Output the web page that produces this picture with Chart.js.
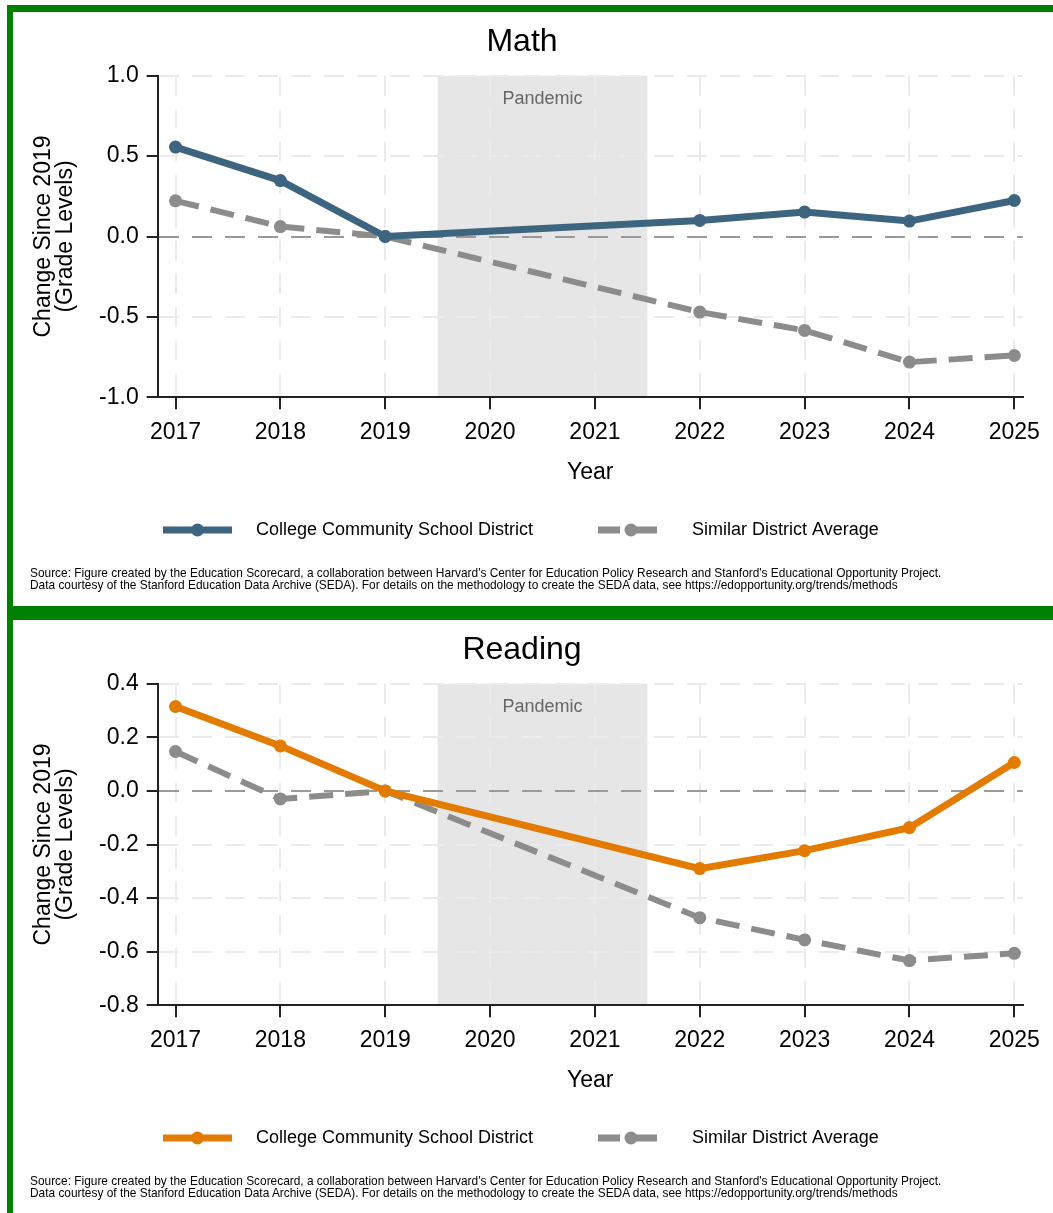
<!DOCTYPE html>
<html>
<head>
<meta charset="utf-8">
<title>Math and Reading</title>
<script src="https://cdn.jsdelivr.net/npm/chart.js@4.4.1/dist/chart.umd.min.js"></script>
<style>
  body { margin: 0; background: #fff; width: 1053px; height: 1213px; overflow: hidden; position: relative;
         font-family: "Liberation Sans", Arial, sans-serif; }
  .panel { position: absolute; left: 7px; width: 1100px; border-left: 6px solid #008000; border-top: 7px solid #008000; }
  #p1 { top: 5px; height: 594px; border-bottom: 7px solid #008000; }
  #p2 { top: 613px; height: 600px; }
  .panel canvas { position: absolute; left: 0; top: 0; }
  .src { position: absolute; left: 17px; top: 555px; font-size: 11.9px; line-height: 12px; color: #000; white-space: nowrap; }
</style>
</head>
<body>
<div class="panel" id="p1">
  <canvas id="cMath" width="1040" height="594"></canvas>
  <div class="src">Source: Figure created by the Education Scorecard, a collaboration between Harvard's Center for Education Policy Research and Stanford's Educational Opportunity Project.<br>Data courtesy of the Stanford Education Data Archive (SEDA). For details on the methodology to create the SEDA data, see https://edopportunity.org/trends/methods</div>
</div>
<div class="panel" id="p2">
  <canvas id="cRead" width="1040" height="594"></canvas>
  <div class="src">Source: Figure created by the Education Scorecard, a collaboration between Harvard's Center for Education Policy Research and Stanford's Educational Opportunity Project.<br>Data courtesy of the Stanford Education Data Archive (SEDA). For details on the methodology to create the SEDA data, see https://edopportunity.org/trends/methods</div>
</div>
<script>
// values (change since 2019, grade levels)
const years = [2017, 2018, 2019, 2022, 2023, 2024, 2025];
const xTicks = [2017, 2018, 2019, 2020, 2021, 2022, 2023, 2024, 2025];
const seriesNames = ["College Community School District", "Similar District Average"];

const mathDistrict = [0.556, 0.348, 0.0, 0.100, 0.152, 0.096, 0.224];
const mathSimilar = [0.222, 0.062, 0.0, -0.470, -0.584, -0.781, -0.740];
const mathYTicks = [-1.0, -0.5, 0.0, 0.5, 1.0];

const readDistrict = [0.315, 0.168, 0.0, -0.290, -0.223, -0.137, 0.106];
const readSimilar = [0.147, -0.030, 0.0, -0.473, -0.556, -0.633, -0.606];
const readYTicks = [-0.8, -0.6, -0.4, -0.2, 0.0, 0.2, 0.4];

const pandemic = [2019.5, 2021.5];

const GRAY = "#8c8c8c";
const FONT = '"Liberation Sans", Arial, sans-serif';
Chart.defaults.font.family = FONT;
Chart.defaults.color = "#000";

// shaded pandemic years + label, under the grid
const pandemicBand = {
  id: "pandemicBand",
  beforeDraw(chart) {
    const { ctx, chartArea: a, scales: { x } } = chart;
    const x0 = x.getPixelForValue(pandemic[0]);
    const x1 = x.getPixelForValue(pandemic[1]);
    ctx.save();
    ctx.fillStyle = "#e6e6e6";
    ctx.fillRect(x0, a.top, x1 - x0, a.bottom - a.top);
    ctx.fillStyle = "#666";
    ctx.font = "18px " + FONT;
    ctx.textAlign = "center";
    ctx.textBaseline = "middle";
    ctx.fillText("Pandemic", (x0 + x1) / 2, a.top + 23);
    ctx.restore();
  },
};

// legend key: line with a marker in the middle
const keyLegend = {
  id: "keyLegend",
  afterDraw(chart) {
    const { ctx } = chart;
    const y = 518;
    const keys = [
      { x0: 150, x1: 219, tx: 243 },
      { x0: 585, x1: 644, tx: 679, dot: 618 },
    ];
    chart.data.datasets.forEach((ds, i) => {
      const k = keys[i];
      ctx.save();
      ctx.strokeStyle = ds.borderColor;
      ctx.lineWidth = 7;
      ctx.setLineDash(ds.borderDash ? [22, 6, 31] : []);
      ctx.beginPath();
      ctx.moveTo(k.x0, y);
      ctx.lineTo(k.x1, y);
      ctx.stroke();
      ctx.setLineDash([]);
      ctx.fillStyle = ds.borderColor;
      ctx.beginPath();
      ctx.arc(k.dot ?? (k.x0 + k.x1) / 2, y, 6.5, 0, Math.PI * 2);
      ctx.fill();
      ctx.fillStyle = "#000";
      ctx.font = "18px " + FONT;
      ctx.textBaseline = "middle";
      ctx.fillText(ds.label, k.tx, y);
      ctx.restore();
    });
  },
};

function buildChart(id, title, yTicks, district, similar, color) {
  const pts = (vals) => years.map((yr, i) => ({ x: yr, y: vals[i] }));
  return new Chart(document.getElementById(id), {
    type: "line",
    data: {
      datasets: [
        {
          label: seriesNames[0], data: pts(district),
          borderColor: color, backgroundColor: color, borderWidth: 7,
          pointRadius: 6.5, pointHoverRadius: 6.5, pointBorderWidth: 0, pointBackgroundColor: color,
          tension: 0, clip: false,
        },
        {
          label: seriesNames[1], data: pts(similar),
          borderColor: GRAY, backgroundColor: GRAY, borderWidth: 6, borderDash: [24, 12],
          pointRadius: 6.5, pointHoverRadius: 6.5, pointBorderWidth: 0, pointBackgroundColor: GRAY,
          tension: 0, clip: false,
        },
      ],
    },
    options: {
      responsive: false,
      animation: false,
      devicePixelRatio: 1,
      events: [],
      layout: { padding: { left: 8.3, right: 30.3, top: 0, bottom: 118.7 } },
      plugins: {
        legend: { display: false },
        tooltip: { enabled: false },
        title: {
          display: true, text: title, color: "#000",
          font: { size: 32, weight: "normal" },
          padding: { top: 11.2, bottom: 14.1 },
        },
      },
      scales: {
        x: {
          type: "linear", min: 2016.83, max: 2025.08,
          afterBuildTicks: (s) => { s.ticks = xTicks.map((v) => ({ value: v })); },
          afterFit: (s) => { s.height = 90; s.paddingLeft = 0; s.paddingRight = 0; },
          grid: { color: "#ebebeb", lineWidth: 2, tickLength: 12, tickColor: "#222", tickWidth: 2, tickBorderDash: [] },
          border: { display: true, color: "#222", width: 2, dash: [20, 13] },
          ticks: { color: "#000", font: { size: 23 }, padding: 10, maxRotation: 0, autoSkip: false, callback: (v) => String(v) },
          title: { display: true, text: "Year", color: "#000", font: { size: 23 }, padding: { top: 0, bottom: 0.5 } },
        },
        y: {
          type: "linear", min: yTicks[0], max: yTicks[yTicks.length - 1],
          afterBuildTicks: (s) => { s.ticks = yTicks.map((v) => ({ value: v })); },
          afterFit: (s) => { s.width = 136.4; s.paddingTop = 0; s.paddingBottom = 0; },
          grid: {
            color: (c) => (c.tick && c.tick.value === 0 ? "#9a9a9a" : "#ebebeb"),
            lineWidth: 2, tickLength: 11, tickColor: "#222", tickWidth: 2, tickBorderDash: [],
          },
          border: { display: true, color: "#222", width: 2, dash: [20, 13] },
          ticks: { color: "#000", font: { size: 23 }, padding: 8, autoSkip: false, callback: (v) => v.toFixed(1) },
          title: {
            display: true, text: ["Change Since 2019", "(Grade Levels)"], color: "#000",
            font: { size: 23, lineHeight: 0.96 }, padding: { top: 11.7, bottom: 0 },
          },
        },
      },
    },
    plugins: [pandemicBand, keyLegend],
  });
}

buildChart("cMath", "Math", mathYTicks, mathDistrict, mathSimilar, "#3e6580");
buildChart("cRead", "Reading", readYTicks, readDistrict, readSimilar, "#e37b00");
</script>
</body>
</html>
